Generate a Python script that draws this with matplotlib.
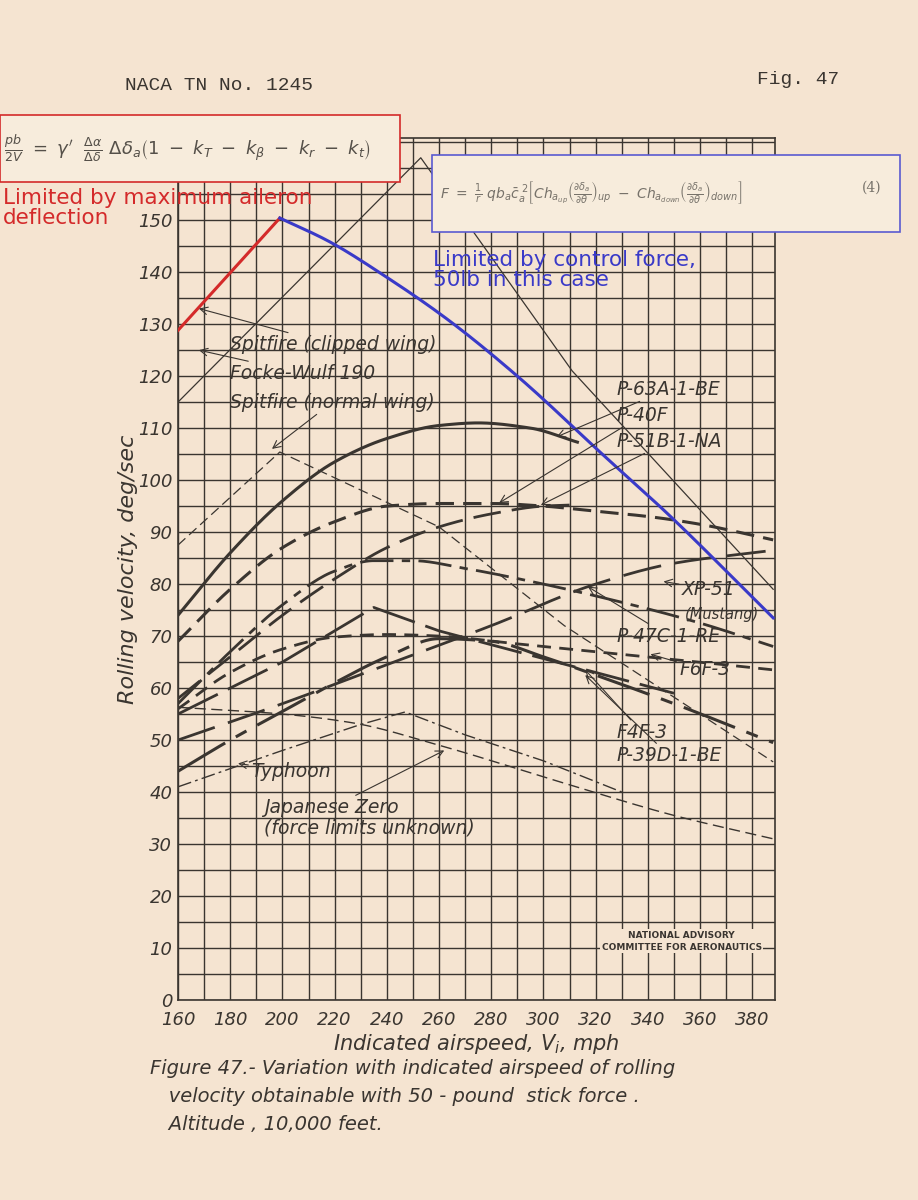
import matplotlib
matplotlib.use("Agg")
import matplotlib.pyplot as plt
import numpy as np
from matplotlib.patches import Rectangle

# ---- data (mph, deg/sec) ----
red_x = [160, 199]
red_y = [128.8, 150.4]
blue_x = [199, 217.5, 240, 263, 290, 323.6, 347, 388]
blue_y = [150.4, 146, 139, 131, 120, 104.5, 93.8, 73.5]
fw_x = [160, 253, 311, 388]
fw_y = [115, 162, 121, 79]
spn_x = [160, 199, 260, 308, 388]
spn_y = [87.5, 105.4, 91, 72, 45.8]
p63_x = [160, 180, 200, 220, 240, 260, 275, 295, 313]
p63_y = [74, 86, 96, 103.5, 108, 110.5, 111, 110, 107.3]
p40_x = [160, 180, 200, 220, 240, 260, 280, 300, 320, 340, 360, 388]
p40_y = [69, 79, 87, 92, 95, 95.5, 95.5, 95, 94, 93, 91.5, 88.5]
p51_x = [160, 180, 200, 220, 240, 260, 280, 300, 310]
p51_y = [58, 66, 74, 81, 87, 91, 93.5, 95, 95.2]
xp51_x = [160, 200, 240, 280, 320, 350, 388]
xp51_y = [50, 57, 64.5, 72, 80, 84, 86.5]
p47_x = [160, 180, 200, 220, 235, 250, 270, 300, 330, 360, 388]
p47_y = [57, 67, 76, 82.5, 84.5, 84.5, 83, 80, 76.5, 72.5, 68]
f6f_x = [160, 180, 200, 220, 240, 260, 290, 320, 350, 388]
f6f_y = [56, 63, 67.5, 69.8, 70.3, 70, 68.5, 67, 65.5, 63.5]
f4f_x = [160, 200, 235, 260, 290, 320, 350]
f4f_y = [55, 65, 75.5, 71, 67, 63, 59]
p39_x = [160, 180, 200, 220, 240, 260, 280, 300, 320, 350, 388]
p39_y = [44, 50, 55.5, 61, 66, 69.5, 69, 66, 62.5, 57, 49.5]
typ_x = [160, 200, 230, 247, 270, 300, 330]
typ_y = [41, 48, 53, 55.4, 51, 46, 40]
zero_x = [160, 200, 227, 260, 308, 350, 388]
zero_y = [56.3, 55, 53.3, 49, 41.7, 35.5, 31]

xticks = [160, 180, 200, 220, 240, 260, 280, 300, 320, 340, 360, 380]
yticks = [0, 10, 20, 30, 40, 50, 60, 70, 80, 90, 100, 110, 120, 130, 140, 150]

ink = '#3a3530'
page = '#f5e4d1'

def smooth(x, y, n=200):
    x = np.asarray(x, float); y = np.asarray(y, float)
    if len(x) < 3:
        return x, y
    t = np.linspace(x[0], x[-1], n)
    h = np.diff(x); d = np.diff(y) / h
    m = np.zeros_like(y)
    m[0] = d[0]; m[-1] = d[-1]
    for i in range(1, len(x) - 1):
        if d[i-1] * d[i] <= 0:
            m[i] = 0
        else:
            w1 = 2*h[i] + h[i-1]; w2 = h[i] + 2*h[i-1]
            m[i] = (w1 + w2) / (w1/d[i-1] + w2/d[i])
    out = np.empty_like(t)
    for k, tv in enumerate(t):
        i = min(np.searchsorted(x, tv, side='right') - 1, len(x) - 2)
        s = (tv - x[i]) / h[i]
        h00 = 2*s**3 - 3*s**2 + 1; h10 = s**3 - 2*s**2 + s
        h01 = -2*s**3 + 3*s**2; h11 = s**3 - s**2
        out[k] = h00*y[i] + h10*h[i]*m[i] + h01*y[i+1] + h11*h[i]*m[i+1]
    return t, out

fig = plt.figure(figsize=(9.18, 12), dpi=100, facecolor=page)
ax = fig.add_axes([178/918, 1-1000/1200, (775-178)/918, (1000-138)/1200])
ax.set_facecolor(page)
ax.set_xlim(160, 388.7)
ax.set_ylim(0, 165.8)
for gx in np.arange(160, 390, 10):
    ax.axvline(gx, color=ink, lw=1.0, zorder=1)
for gy in np.arange(0, 166, 5):
    ax.axhline(gy, color=ink, lw=1.0, zorder=1)
for s in ax.spines.values():
    s.set_color(ink); s.set_linewidth(1.2)
ax.set_xticks(xticks)
ax.set_yticks(yticks)
ax.tick_params(length=0, labelsize=13, colors=ink)
ax.tick_params(axis='x', pad=8)
ax.tick_params(axis='y', pad=4)
for lab in ax.get_xticklabels() + ax.get_yticklabels():
    lab.set_fontstyle('italic')
ax.set_xlabel('Indicated airspeed, $V_i$, mph', fontsize=15, style='italic', color=ink, labelpad=2)
ax.set_ylabel('Rolling velocity, deg/sec', fontsize=16, style='italic', color=ink, labelpad=0)

def line(x, y, lw, ls, sm=True):
    xs, ys = smooth(x, y) if sm else (x, y)
    ax.plot(xs, ys, color=ink, lw=lw, linestyle=ls, zorder=3)

line(fw_x, fw_y, 0.9, '-', sm=False)
line(spn_x, spn_y, 0.9, (0, (8, 4)), sm=False)
line(p63_x, p63_y, 2.2, '-')
line(p40_x, p40_y, 2.2, (0, (6, 3)))
line(p51_x, p51_y, 2.0, (0, (10, 4)))
line(xp51_x, xp51_y, 2.0, (0, (14, 5)))
line(p47_x, p47_y, 2.0, (0, (12, 3, 3, 3)))
line(f6f_x, f6f_y, 2.0, (0, (5, 3)))
line(f4f_x, f4f_y, 2.0, (0, (16, 4)), sm=False)
line(p39_x, p39_y, 2.2, (0, (18, 4, 4, 4)))
line(typ_x, typ_y, 1.0, (0, (10, 3, 2, 3)), sm=False)
line(zero_x, zero_y, 1.0, (0, (8, 4)))
ax.plot(red_x, red_y, color='#d42a2a', lw=2.2, zorder=4)
xs, ys = smooth(blue_x, blue_y)
ax.plot(xs, ys, color='#3a3ac8', lw=2.2, zorder=4)

lab_kw = dict(fontsize=13.5, style='italic', color=ink, zorder=5)
arr = dict(arrowstyle='->', color=ink, lw=0.8, shrinkA=0, shrinkB=0)
def label(text, tx, ty, px, py, ha='left'):
    ax.annotate(text, xy=(px, py), xytext=(tx, ty), ha=ha, va='center',
                arrowprops=arr, **lab_kw)

label('Spitfire (clipped wing)', 180, 126, 168, 133)
label('Focke-Wulf 190', 180, 120.5, 168, 125)
label('Spitfire (normal wing)', 180, 115, 196, 106)
label('P-63A-1-BE', 328, 117.5, 305, 108.3)
label('P-40F', 328, 112.5, 283, 95.6)
label('P-51B-1-NA', 328, 107.5, 299, 95.2)
label('XP-51', 353, 79, 346, 80.5)
ax.text(354, 73.3, '(Mustang)', fontsize=10.5, style='italic', color=ink, zorder=5)
label('P-47C-1-RE', 328, 70, 317, 79.5)
label('F6F-3', 352, 63.5, 341, 66.5)
label('F4F-3', 328, 51.5, 316, 63.5)
label('P-39D-1-BE', 328, 47, 316, 62.5)
label('Typhoon', 188, 44, 183, 45.5)
label('Japanese Zero', 193, 37, 262, 48)
ax.text(193, 32, '(force limits unknown)', fontsize=13.5, style='italic', color=ink, zorder=5)
ax.text(353, 11.3, 'NATIONAL ADVISORY\nCOMMITTEE FOR AERONAUTICS', fontsize=6.5, weight='bold',
        ha='center', va='center', color=ink, zorder=5, linespacing=1.4,
        bbox=dict(fc=page, ec='none', pad=1))

# page texts
fig.text(125/918, 1-85/1200, 'NACA TN No. 1245', fontsize=14, family='Liberation Mono', color=ink, va='center')
fig.text(757/918, 1-80/1200, 'Fig. 47', fontsize=14, family='Liberation Mono', color=ink, va='center')
cap = ['Figure 47.- Variation with indicated airspeed of rolling',
       '   velocity obtainable with 50 - pound  stick force .',
       '   Altitude , 10,000 feet.']
for i, c in enumerate(cap):
    fig.text(150/918, 1-(1068 + 28*i)/1200, c, fontsize=14, style='italic', color=ink, va='center')

# red box
fig.patches.append(Rectangle((0, 1-182/1200), 400/918, 67/1200, transform=fig.transFigure,
                             fc='#f7ecdc', ec='#d42a2a', lw=1.2, zorder=6))
fig.text(4/918, 1-148/1200,
         r"$\frac{pb}{2V}\ =\ \gamma'\ \ \frac{\Delta\alpha}{\Delta\delta}\ \Delta\delta_a\left(1\ -\ k_T\ -\ k_\beta\ -\ k_r\ -\ k_t\right)$",
         fontsize=13, color='#555049', va='center', zorder=7)
fig.text(3/918, 1-208/1200, 'Limited by maximum aileron\ndeflection', fontsize=15.5, color='#d42a2a',
         va='center', linespacing=1.05, zorder=7)
# blue box
fig.patches.append(Rectangle((432/918, 1-232/1200), 468/918, 77/1200, transform=fig.transFigure,
                             fc='#f7ecdc', ec='#5a5ad0', lw=1.2, zorder=6))
fig.text(440/918, 1-193/1200,
         r"$F\ =\ \frac{1}{r}\ qb_a\bar{c}_a^{\ 2}\left[Ch_{a_{up}}\left(\frac{\partial\delta_a}{\partial\theta}\right)_{up}\ -\ Ch_{a_{down}}\left(\frac{\partial\delta_a}{\partial\theta}\right)_{down}\right]$",
         fontsize=10, color='#77726a', va='center', zorder=7)
fig.text(862/918, 1-188/1200, '(4)', fontsize=10, color='#77726a', va='center', family='DejaVu Serif', zorder=7)
fig.text(433/918, 1-270/1200, 'Limited by control force,\n50lb in this case', fontsize=15.5, color='#3a3ac8',
         va='center', linespacing=1.05, zorder=7)

fig.savefig('out.png', dpi=100, facecolor=page)
